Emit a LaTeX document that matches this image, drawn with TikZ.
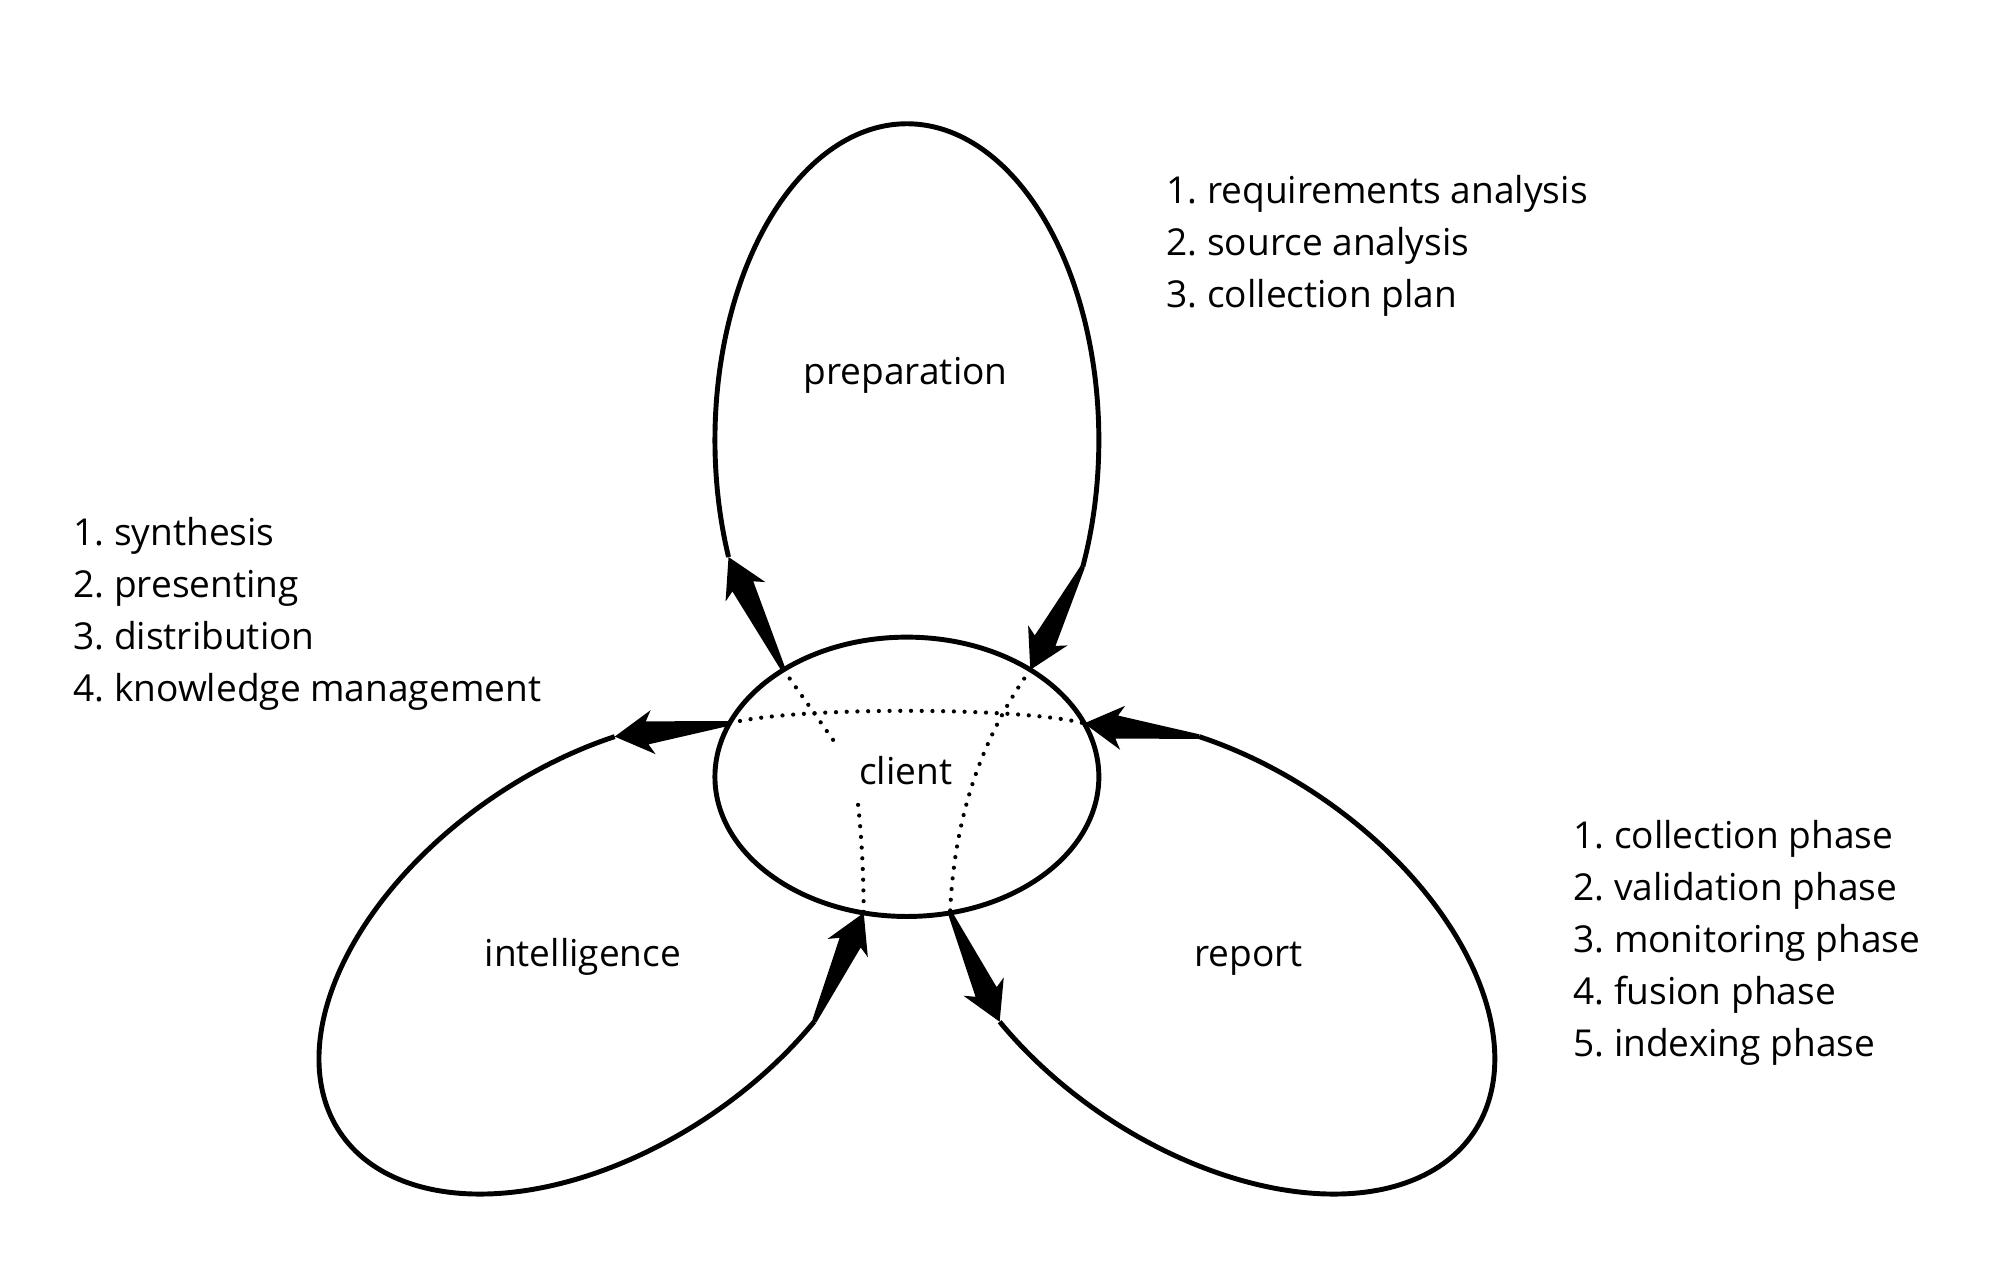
\documentclass[tikz,border=0pt]{standalone}
\usepackage{fontspec}
\setmainfont{Open Sans}
\usetikzlibrary{calc}
\frenchspacing
% tapered arrow from #1 (tail) to #2 (tip)
\newcommand\tparrow[2]{%
  \path ($(#2)!11pt!(#1)$) coordinate (hb)
        ($(#2)!9.3pt!(#1)$) coordinate (hn);
  \fill[line join=round] (#2) -- ($(hb)!6.3pt!90:(#1)$) -- ($(hn)!3.3pt!90:(#1)$)
        -- ($(#1)!0.65pt!-90:(#2)$) -- ($(#1)!0.65pt!90:(#2)$)
        -- ($(hn)!3.3pt!-90:(#1)$) -- ($(hb)!6.3pt!-90:(#1)$) -- cycle;
}
\begin{document}
\begin{tikzpicture}[x=0.012755cm,y=-0.012755cm,
  outline/.style={line width=1.4pt, line join=round},
  dotline/.style={line width=1.2pt, line cap=round, dash pattern=on 0pt off 3.05pt},
  txt/.style={font=\fontsize{10.55}{14}\selectfont, inner sep=0pt}]
\useasboundingbox (0,0) rectangle (1568,993);

% ---------- client ----------
\coordinate (clientc) at (711,609);
\draw[outline] (clientc) ellipse [x radius=150.5, y radius=109.5];
\node[txt, anchor=base] (clientlbl) at (710,615.4) {client};

% points on the client border
\coordinate (cPO) at ({711+150.5*cos(230)},{609+109.5*sin(230)});
\coordinate (cPI) at ({711+150.5*cos(310)},{609+109.5*sin(310)});
\coordinate (cIO) at ({711+150.5*cos(202.5)},{609+109.5*sin(202.5)});
\coordinate (cRI) at ({711+150.5*cos(337.5)},{609+109.5*sin(337.5)});
\coordinate (cII) at ({711+150.5*cos(103)},{609+109.5*sin(103)});
\coordinate (cRO) at ({711+150.5*cos(77)},{609+109.5*sin(77)});

% ---------- preparation petal ----------
\coordinate (pL) at ({711+150.5*cos(158.3)},{345+248*sin(158.3)});
\coordinate (pR) at ({711+150.5*cos(23.6)},{345+248*sin(23.6)});
\draw[outline] plot[domain=158.3:383.6, samples=160, variable=\t]
  ({711+150.5*cos(\t)},{345+248*sin(\t)});
\node[txt, anchor=base] (preplbl) at (710,301.8) {preparation};

% ---------- intelligence petal ----------
\coordinate (iA) at ({472.3+205.6*cos(294.8)+84.4*sin(294.8)},{749.3-138.7*cos(294.8)+125.2*sin(294.8)});
\coordinate (iB) at ({472.3+205.6*cos(64)+84.4*sin(64)},{749.3-138.7*cos(64)+125.2*sin(64)});
\draw[outline] plot[domain=64:294.8, samples=160, variable=\t]
  ({472.3+205.6*cos(\t)+84.4*sin(\t)},{749.3-138.7*cos(\t)+125.2*sin(\t)});
\node[txt, anchor=base] (intlbl) at (457,758) {intelligence};

% ---------- report petal ----------
\coordinate (rA) at ({949.7+205.6*cos(-114.8)-84.4*sin(-114.8)},{749.3+138.7*cos(-114.8)+125.2*sin(-114.8)});
\coordinate (rB) at ({949.7+205.6*cos(116)-84.4*sin(116)},{749.3+138.7*cos(116)+125.2*sin(116)});
\draw[outline] plot[domain=-114.8:116, samples=160, variable=\t]
  ({949.7+205.6*cos(\t)-84.4*sin(\t)},{749.3+138.7*cos(\t)+125.2*sin(\t)});
\node[txt, anchor=base] (replbl) at (979,758) {report};

% ---------- arrows ----------
\tparrow{cPO}{pL}
\tparrow{pR}{cPI}
\tparrow{cIO}{iA}
\tparrow{iB}{cII}
\tparrow{cRO}{rB}
\tparrow{rA}{cRI}

% ---------- dotted lines inside client ----------
\coordinate (d2e) at (657,585.5);
\coordinate (d4s) at (672.7,631);
\draw[dotline] (cIO) .. controls (620,554) and (800,554) .. (cRI);
\draw[dotline] (cPO) -- (d2e);
\draw[dotline] (cPI) .. controls (770,578) and (748,640) .. (cRO);
\draw[dotline] (d4s) .. controls (676,660) and (677,690) .. (cII);

% ---------- lists ----------
\node[txt, anchor=base west] (p1) at (914,159.3) {1. requirements analysis};
\node[txt, anchor=base west] (p2) at (914,200.1) {2. source analysis};
\node[txt, anchor=base west] (p3) at (914,240.9) {3. collection plan};

\node[txt, anchor=base west] (i1) at (57,427.4) {1. synthesis};
\node[txt, anchor=base west] (i2) at (57,468.2) {2. presenting};
\node[txt, anchor=base west] (i3) at (57,509.0) {3. distribution};
\node[txt, anchor=base west] (i4) at (57,549.8) {4. knowledge management};

\node[txt, anchor=base west] (r1) at (1233,665.4) {1. collection phase};
\node[txt, anchor=base west] (r2) at (1233,706.2) {2. validation phase};
\node[txt, anchor=base west] (r3) at (1233,747.0) {3. monitoring phase};
\node[txt, anchor=base west] (r4) at (1233,787.8) {4. fusion phase};
\node[txt, anchor=base west] (r5) at (1233,828.6) {5. indexing phase};
\end{tikzpicture}
\end{document}
